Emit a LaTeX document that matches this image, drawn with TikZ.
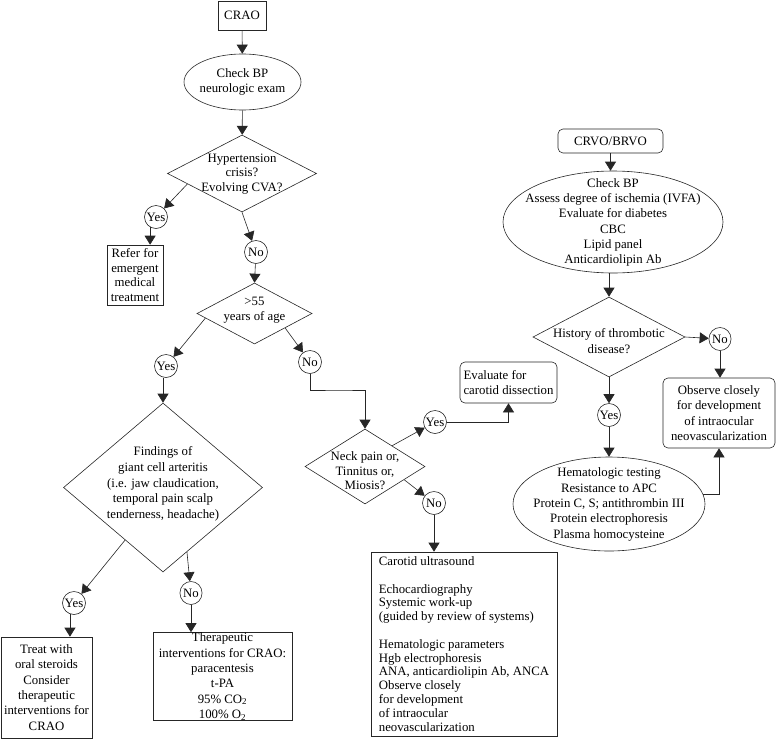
\documentclass[tikz,border=0pt]{standalone}
\usepackage{fontspec}
\setmainfont{Liberation Serif}
\usetikzlibrary{shapes.geometric,arrows.meta,calc}
\begin{document}
\begin{tikzpicture}[x=1pt,y=-1pt,
  every node/.style={font=\fontsize{12.8}{14.5}\selectfont, inner sep=0pt},
  ln/.style={draw=black!85, line width=0.6pt},
  arr/.style={ln, -{Triangle[width=11pt,length=9pt]}},
  box/.style={ln, rectangle, align=center},
  rbox/.style={box, rounded corners=5pt},
  dia/.style={ln, diamond},
  ell/.style={ln, ellipse},
  yn/.style={ln, circle, minimum size=23pt},
  yne/.style={ln, ellipse},
  txt/.style={align=center},
  sp15/.style={font=\fontsize{12.8}{15.3}\selectfont},
  sp155/.style={font=\fontsize{12.8}{15.6}\selectfont}
]
\useasboundingbox (0,0) rectangle (776,739);

% ---------- CRAO branch ----------
\node[box, minimum width=48pt, minimum height=29pt] (crao) at (242,15.5) {CRAO};
\node[ell, minimum width=117pt, minimum height=56pt] (e1) at (242.5,82) {};
\node[txt] (e1t) at (242.5,82) {Check BP\\neurologic exam};
\node[dia, minimum width=149pt, minimum height=77pt] (d1) at (242,173.5) {};
\node[txt] (d1t) at (242,174) {Hypertension\\crisis?\\Evolving CVA?};
\node[yn] (y1) at (156,217) {Yes};
\node[yn] (n1) at (256,252) {No};
\node[box, minimum width=56pt, minimum height=60pt] (refer) at (135,275) {Refer for\\emergent\\medical\\treatment};

\node[dia, minimum width=115pt, minimum height=61pt] (d2) at (254.5,313.5) {};
\node[txt] (d2t) at (254.5,310) {>55\\years of age};
\node[yn] (y2) at (166,366) {Yes};
\node[yn] (n2) at (310,362) {No};

\node[dia, minimum width=199pt, minimum height=169pt] (d3) at (163,487.5) {};
\node[txt, sp155] (d3t) at (163,484) {Findings of\\giant cell arteritis\\(i.e. jaw claudication,\\temporal pain scalp\\tenderness, headache)};
\node[yn] (y3) at (74,603) {Yes};
\node[yne, minimum width=19pt, minimum height=23pt] (n3) at (191,593) {No};
\node[box, sp15, minimum width=91pt, minimum height=101pt] (treat) at (46.5,687.5) {Treat with\\oral steroids\\Consider\\therapeutic\\interventions for\\CRAO};
\node[box, sp15, minimum width=139pt, minimum height=88pt] (ther) at (222.5,676.5) {Therapeutic\\interventions for CRAO:\\paracentesis\\t-PA\\95\% CO\textsubscript{2}\\100\% O\textsubscript{2}};

\node[dia, minimum width=120pt, minimum height=75pt] (d4) at (365,466.5) {};
\node[txt] (d4t) at (365,471) {Neck pain or,\\Tinnitus or,\\Miosis?};
\node[yn] (y4) at (435,422) {Yes};
\node[yn] (n4) at (434,503) {No};
\node[rbox, align=left, minimum width=97pt, minimum height=41pt] (eval) at (508.5,382.5) {Evaluate for\\carotid dissection};
\node[box, align=left, font=\fontsize{12.8}{13.8}\selectfont, minimum width=186pt, minimum height=184pt] (carotid) at (464,644) {Carotid ultrasound\\[13.8pt]Echocardiography\\Systemic work-up\\(guided by review of systems)\\[13.8pt]Hematologic parameters\\Hgb electrophoresis\\ANA, anticardiolipin Ab, ANCA\\Observe closely\\for development\\of intraocular\\neovascularization};
\coordinate (b2) at (340,390);

% ---------- CRVO/BRVO branch ----------
\node[rbox, minimum width=105pt, minimum height=24pt] (crvo) at (610.5,141) {CRVO/BRVO};
\node[ell, minimum width=220pt, minimum height=102pt] (e2) at (613,222) {};
\node[txt, sp15] (e2t) at (613,222.5) {Check BP\\Assess degree of ischemia (IVFA)\\Evaluate for diabetes\\CBC\\Lipid panel\\Anticardiolipin Ab};
\node[dia, minimum width=152pt, minimum height=80pt] (d5) at (609,337) {};
\node[txt, sp15] (d5t) at (609,341) {History of thrombotic\\disease?};
\node[yne, minimum width=21pt, minimum height=23pt] (n5) at (720,339) {No};
\node[rbox, sp15, minimum width=112pt, minimum height=70pt] (obs) at (719,413) {Observe closely\\for development\\of intraocular\\neovascularization};
\node[yn] (y5) at (609,415) {Yes};
\node[ell, minimum width=192pt, minimum height=94pt] (e3) at (609,504) {};
\node[txt, sp15] (e3t) at (609,504.5) {Hematologic testing\\Resistance to APC\\Protein C, S; antithrombin III\\Protein electrophoresis\\Plasma homocysteine};

% ---------- connectors ----------
\draw[arr] (crao) -- (e1);
\draw[arr] (e1) -- (d1);
\draw[arr] ($(d1.west)!0.27!(d1.south)$) -- (y1);
\draw[arr] (d1.south) -- (n1);
\draw[arr] (y1.-120) -- (y1.-120 |- refer.north);
\draw[arr] (n1) -- (d2.north);
\draw[arr] ($(d2.west)!0.15!(d2.south)$) -- (y2);
\draw[arr] ($(d2.east)!0.47!(d2.south)$) -- (n2);
\draw[arr] (y2.south -| d3.north) -- (d3.north);
\draw[arr] (n2.south) |- (b2) -| (d4.north);
\draw[arr] ($(d3.west)!0.62!(d3.south)$) -- (y3);
\draw[arr] ($(d3.east)!0.76!(d3.south)$) -- (n3);
\draw[arr] (y3.-110) -- (y3.-110 |- treat.north);
\draw[arr] (n3.south) -- (n3.south |- ther.north);
\draw[arr] ($(d4.north)!0.45!(d4.east)$) -- (y4);
\draw[arr] (y4.east) -| (eval.south);
\draw[arr] ($(d4.east)!0.35!(d4.south)$) -- (n4);
\draw[arr] (n4.south) -- (n4.south |- carotid.north);

\draw[arr] (crvo.south) -- (crvo.south |- e2.north);
\draw[arr] (e2.south -| d5.north) -- (d5.north);
\draw[arr] (d5.east) -- (n5);
\draw[arr] (n5.south) -- (n5.south |- obs.north);
\draw[arr] (d5.south) -- (y5);
\draw[arr] (y5.south) -- (y5.south |- e3.north);
\draw[arr] (e3.6) -| (obs.south);
\end{tikzpicture}
\end{document}
